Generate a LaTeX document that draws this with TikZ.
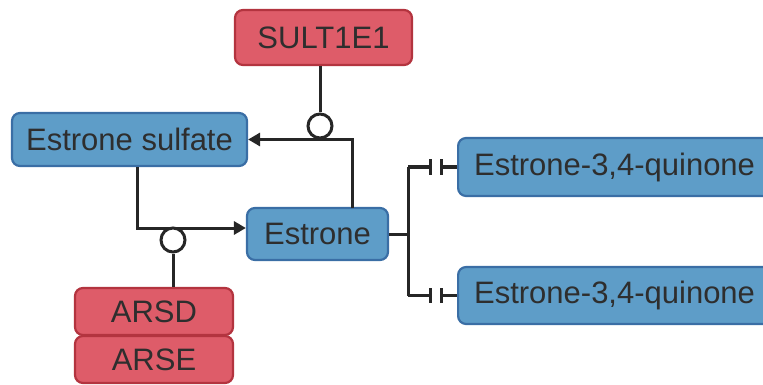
\documentclass[tikz,border=0pt]{standalone}
\usepackage{fontspec}
\setmainfont{Liberation Sans}
\usetikzlibrary{arrows.meta,calc}
\definecolor{bfill}{HTML}{5E9DC8}
\definecolor{bdraw}{HTML}{3A6EA5}
\definecolor{rfill}{HTML}{DE5C69}
\definecolor{rdraw}{HTML}{B3343F}
\definecolor{txt}{HTML}{2E2E2E}
\definecolor{ln}{HTML}{262626}
\begin{document}
\begin{tikzpicture}[x=1pt,y=-1pt,
  box/.style={draw, line width=2.2pt, rounded corners=8pt, text=txt, inner sep=0pt,
    font=\fontsize{31}{36}\selectfont},
  bluebox/.style={box, fill=bfill, draw=bdraw},
  redbox/.style={box, fill=rfill, draw=rdraw},
  conn/.style={draw=ln, line width=3pt},
  arr/.style={conn, -{Triangle[length=12pt,width=13pt]}},
  inh/.style={conn, -{Bar[width=15pt,line width=3pt]}},
  inhr/.style={conn, {Bar[width=15pt,line width=3pt]}-},
  mod/.style={draw=ln, line width=3pt, fill=white}]
\useasboundingbox (0,0) rectangle (763,385);
\clip (0,0) rectangle (763,385);
\node[redbox, minimum width=177pt, minimum height=55pt] (sult) at (323.5,37.5) {SULT1E1};
\node[bluebox, minimum width=235pt, minimum height=53pt] (es) at (129.5,139.5) {Estrone sulfate};
\node[bluebox, minimum width=141pt, minimum height=52pt] (e) at (317.5,234) {Estrone};
\node[bluebox, anchor=west, text width=311pt, align=left, inner xsep=16pt, minimum height=58pt] (q1) at (457,167) {Estrone-3,4-quinone};
\node[bluebox, anchor=west, text width=311pt, align=left, inner xsep=16pt, minimum height=57pt] (q2) at (457,295.5) {Estrone-3,4-quinone};
\node[redbox, minimum width=158pt, minimum height=47pt] (arsd) at (154,311.5) {ARSD};
\node[redbox, minimum width=158pt, minimum height=47pt] (arse) at (154,359.5) {ARSE};
% Estrone -> Estrone sulfate (SULT1E1)
\coordinate (etop) at (352,208);
\draw[arr] (etop) |- (es.east);
\node[mod, circle, minimum size=24pt, inner sep=0pt] (c1) at (320,126) {};
\draw[conn] (sult.south -| c1) -- (c1.north);
% Estrone sulfate -> Estrone (ARSD/ARSE)
\coordinate (eentry) at ($(e.west)+(0,-6)$);
\draw[arr] (es.south -| 137,0) |- (eentry);
\node[mod, circle, minimum size=24pt, inner sep=0pt] (c2) at (173,240) {};
\draw[conn] (c2.south) -- (arsd.north -| c2);
% Estrone -> quinones (inhibited)
\coordinate (br) at (408,234);
\coordinate (b1) at (408,167);
\coordinate (b2) at (408,295.5);
\coordinate (t1) at (432,167);
\coordinate (t2) at (432,295.5);
\coordinate (s1) at (440,167);
\coordinate (s2) at (440,295.5);
\draw[conn] (e.east) -- (br);
\draw[conn] (b1) -- (b2);
\draw[inh] (b1) -- (t1);
\draw[inh] (b2) -- (t2);
\draw[inhr] (s1) -- (q1.west);
\draw[inhr] (s2) -- (q2.west);
\end{tikzpicture}
\end{document}
